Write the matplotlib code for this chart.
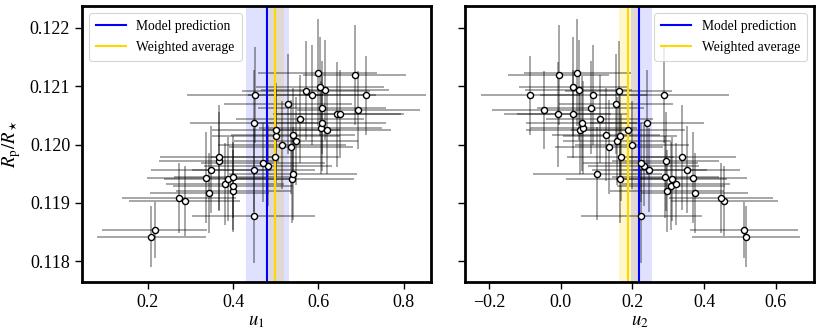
import numpy as np
import matplotlib
matplotlib.use("Agg")
import matplotlib.pyplot as plt

plt.rcParams['font.family'] = ['Liberation Serif', 'DejaVu Serif']
plt.rcParams['mathtext.fontset'] = 'stix'

# Data: radius ratio, limb-darkening coefficients and their uncertainties
rp = [0.11842, 0.11853, 0.11878, 0.11904, 0.11909, 0.11917, 0.11920, 0.11929, 0.11933,
      0.11941, 0.11941, 0.11943, 0.11945, 0.11950, 0.11957, 0.11957, 0.11964, 0.11969,
      0.11971, 0.11978, 0.11978, 0.11996, 0.11999, 0.12006, 0.12015, 0.12017, 0.12024,
      0.12025, 0.12029, 0.12036, 0.12037, 0.12044, 0.12052, 0.12052, 0.12059, 0.12063,
      0.12069, 0.12084, 0.12084, 0.12085, 0.12092, 0.12093, 0.12099, 0.12119, 0.12123]
u1 = [0.208, 0.216, 0.448, 0.287, 0.273, 0.3445, 0.401, 0.400, 0.382,
      0.389, 0.538, 0.3375, 0.401, 0.541, 0.348, 0.448, 0.483, 0.470,
      0.367, 0.368, 0.498, 0.536, 0.514, 0.547, 0.501, 0.541, 0.621,
      0.500, 0.605, 0.609, 0.448, 0.557, 0.643, 0.650, 0.694, 0.608,
      0.529, 0.452, 0.712, 0.585, 0.570, 0.616, 0.604, 0.685, 0.598]
u2 = [0.517, 0.511, 0.225, 0.457, 0.447, 0.374, 0.297, 0.308, 0.322,
      0.309, 0.165, 0.370, 0.292, 0.102, 0.351, 0.247, 0.232, 0.223,
      0.293, 0.339, 0.167, 0.134, 0.198, 0.157, 0.165, 0.126, 0.052,
      0.187, 0.063, 0.058, 0.241, 0.108, -0.009, 0.033, -0.047, 0.083,
      0.154, 0.289, -0.085, 0.091, 0.161, 0.050, 0.0335, -0.0065, 0.0456]
rp_err = [0.00052, 0.00048, 0.00080, 0.00060, 0.00060, 0.00068, 0.00070, 0.00075, 0.00070,
          0.00072, 0.00075, 0.00078, 0.00070, 0.00080, 0.00075, 0.00072, 0.00070, 0.00068,
          0.00085, 0.00090, 0.00075, 0.00080, 0.00075, 0.00075, 0.00080, 0.00080, 0.00075,
          0.00080, 0.00080, 0.00082, 0.00090, 0.00075, 0.00090, 0.00075, 0.00067, 0.00080,
          0.00085, 0.00082, 0.00067, 0.00085, 0.00085, 0.00085, 0.00085, 0.00085, 0.00092]
u1_err = [0.128, 0.122, 0.145, 0.130, 0.133, 0.140, 0.135, 0.140, 0.138,
          0.150, 0.145, 0.140, 0.140, 0.150, 0.140, 0.145, 0.150, 0.145,
          0.140, 0.140, 0.150, 0.145, 0.150, 0.145, 0.150, 0.145, 0.150,
          0.150, 0.145, 0.150, 0.150, 0.150, 0.150, 0.150, 0.145, 0.150,
          0.150, 0.160, 0.140, 0.150, 0.150, 0.150, 0.150, 0.120, 0.140]
u2_err = [0.150, 0.150, 0.170, 0.150, 0.145, 0.150, 0.160, 0.150, 0.150,
          0.155, 0.150, 0.150, 0.150, 0.180, 0.150, 0.160, 0.155, 0.160,
          0.150, 0.150, 0.150, 0.150, 0.160, 0.150, 0.160, 0.150, 0.150,
          0.160, 0.150, 0.155, 0.160, 0.150, 0.150, 0.155, 0.145, 0.150,
          0.160, 0.180, 0.137, 0.150, 0.150, 0.150, 0.150, 0.140, 0.150]

# Model prediction and weighted average (value, lower band, upper band)
model_u1 = [0.479, 0.4304, 0.531]
wavg_u1 = [0.4976, 0.4836, 0.5194]
model_u2 = [0.2187, 0.1955, 0.254]
wavg_u2 = [0.187, 0.162, 0.216]

fig = plt.figure(figsize=(8.3, 3.32), dpi=100)
ax1 = fig.add_axes([0.0988, 0.151, 0.4205, 0.831])
ax2 = fig.add_axes([0.5602, 0.151, 0.4205, 0.831], sharey=ax1)

def panel(ax, x, xerr, model, wavg, xlabel, loc):
    ax.axvspan(wavg[1], wavg[2], color='gold', alpha=0.2, lw=0, zorder=0)
    ax.axvspan(model[1], model[2], color='blue', alpha=0.12, lw=0, zorder=0)
    ax.errorbar(x, rp, xerr=xerr, yerr=rp_err, fmt='none', ecolor='k',
                alpha=0.35, elinewidth=1.4, capsize=0, zorder=1)
    ax.axvline(model[0], color='blue', lw=1.5, label='Model prediction', zorder=2)
    ax.axvline(wavg[0], color='gold', lw=1.5, label='Weighted average', zorder=2)
    ax.plot(x, rp, 'o', ms=4.4, mfc='white', mec='k', mew=1.0, zorder=3)
    ax.set_xlabel(xlabel, fontsize=13.5, labelpad=2)
    ax.tick_params(axis='both', which='major', direction='out', length=5, width=1,
                   labelsize=13)
    for s in ax.spines.values():
        s.set_linewidth(2)
    leg = ax.legend(loc=loc, fontsize=9.8, frameon=True, fancybox=True,
                    borderpad=0.5, handlelength=2.2, labelspacing=0.6)
    leg.get_frame().set_edgecolor('#cccccc')
    leg.get_frame().set_linewidth(0.8)

panel(ax1, u1, u1_err, model_u1, wavg_u1, r'$u_1$', 'upper left')
panel(ax2, u2, u2_err, model_u2, wavg_u2, r'$u_2$', 'upper right')

ax1.set_xlim(0.046, 0.864)
ax2.set_xlim(-0.268, 0.707)
ax1.set_ylim(0.11765, 0.12237)
ax1.set_xticks([0.2, 0.4, 0.6, 0.8])
ax2.set_xticks([-0.2, 0.0, 0.2, 0.4, 0.6])
ax1.set_yticks([0.118, 0.119, 0.120, 0.121, 0.122])
ax1.yaxis.set_major_formatter(matplotlib.ticker.FormatStrFormatter('%.3f'))
ax1.xaxis.set_major_formatter(matplotlib.ticker.FormatStrFormatter('%.1f'))
ax2.xaxis.set_major_formatter(matplotlib.ticker.FuncFormatter(
    lambda v, p: ('\u2212' if v < -1e-9 else '') + '%.1f' % abs(v)))
ax1.set_ylabel(r'$R_\mathrm{p}/R_\star$', fontsize=13.5)
ax1.yaxis.set_label_coords(-0.168, 0.5)
plt.setp(ax2.get_yticklabels(), visible=False)

fig.savefig('out.png', dpi=100)
